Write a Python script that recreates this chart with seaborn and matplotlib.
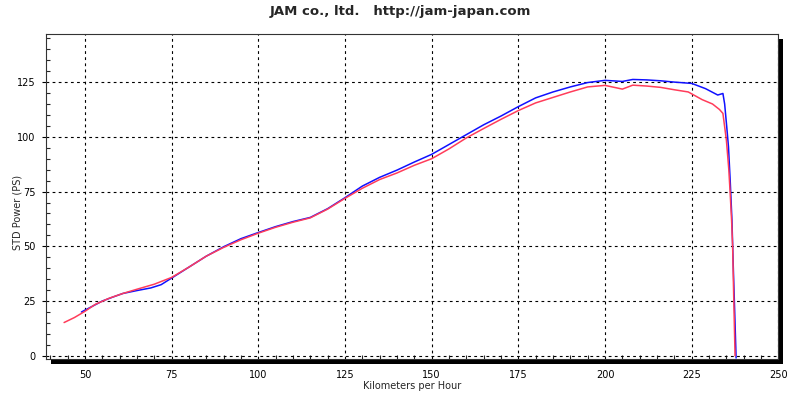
import pandas as pd
import numpy as np
import matplotlib
matplotlib.use('Agg')
import matplotlib.pyplot as plt
import seaborn as sns
from matplotlib.patches import Rectangle
from matplotlib.ticker import MultipleLocator

sns.set_style('white')
plt.rcParams['font.family'] = ['DejaVu Sans']

# Dyno run data (km/h vs PS)
speed_blue = [49, 52, 55, 58, 61, 65, 69, 72, 75, 80, 85, 90, 95, 100, 105, 110, 115,
              120, 125, 130, 135, 140, 145, 150, 155, 160, 165, 170, 175, 180, 185, 190,
              195, 200, 205, 208, 212, 216, 220, 225, 229, 232.5, 234, 234.5, 235.1,
              235.6, 236.1, 236.6, 237.0, 237.4, 237.8]
power_blue = [20, 22.5, 25, 26.8, 28.5, 29.8, 31, 32.5, 35.5, 40.5, 45.5, 49.8, 53.5,
              56.3, 59, 61.3, 63.2, 67.2, 72.2, 77.5, 81.5, 84.8, 88.5, 92, 96.5, 101,
              105.5, 109.5, 113.8, 117.8, 120.5, 122.8, 124.8, 125.8, 125.3, 126.2, 126,
              125.6, 125, 124.4, 122, 119.1, 119.8, 115, 104.6, 95.5, 80, 62, 40, 20, -1]

speed_red = [44, 47, 50, 53, 57, 61, 65, 70, 75, 80, 85, 90, 95, 100, 105, 110, 115,
             120, 125, 130, 135, 140, 145, 150, 155, 160, 165, 170, 175, 180, 185, 190,
             195, 200, 205, 208, 212, 216, 220, 224, 228, 231, 233, 234, 235, 235.7,
             236.1, 236.5, 236.8, 237.1, 237.5]
power_red = [15.2, 17.5, 20.3, 23.5, 26.3, 28.5, 30.4, 32.7, 35.8, 40.5, 45.5, 49.5, 53,
             56, 58.7, 61, 63, 67, 71.9, 76.5, 80.5, 83.5, 87, 90, 94.5, 99.5, 103.8, 108,
             112, 115.5, 118, 120.5, 122.8, 123.5, 121.8, 123.6, 123.2, 122.6, 121.5,
             120.5, 117, 115, 112.5, 110.7, 98.5, 85, 74, 62, 50, 28, 0]

x_ticks = [50, 75, 100, 125, 150, 175, 200, 225, 250]
y_ticks = [0, 25, 50, 75, 100, 125]

df = pd.concat([
    pd.DataFrame({'speed': speed_blue, 'power': power_blue, 'run': 'blue'}),
    pd.DataFrame({'speed': speed_red, 'power': power_red, 'run': 'red'}),
])

fig = plt.figure(figsize=(8, 3.97), dpi=100)
left, bottom, width, height = 0.058, 0.096, 0.915, 0.818
ax = fig.add_axes([left, bottom, width, height])

# drop shadow behind the plot frame
fig.patches.append(Rectangle((left + 5 / 800, bottom - 5 / 397), width, height,
                             transform=fig.transFigure, facecolor='black',
                             edgecolor='none', zorder=0))
ax.set_zorder(1)
ax.set_facecolor('white')

sns.lineplot(data=df, x='speed', y='power', hue='run', sort=False, estimator=None,
             palette={'blue': '#1010ff', 'red': '#ff3c5a'}, linewidth=1.1,
             legend=False, ax=ax)

ax.set_xlim(38.9, 250)
ax.set_ylim(-1.4, 146.9)
ax.set_xticks(x_ticks)
ax.set_yticks(y_ticks)
ax.xaxis.set_minor_locator(MultipleLocator(5))
ax.yaxis.set_minor_locator(MultipleLocator(5))
ax.tick_params(which='major', direction='out', length=3, width=0.8, labelsize=7,
               pad=5, colors='black', bottom=True, left=True)
ax.tick_params(which='minor', direction='in', length=3, width=0.8, bottom=True, left=True)
ax.grid(True, which='major', color='black', linestyle=(0, (2.5, 3)), linewidth=0.8)

for s in ax.spines.values():
    s.set_color('#333333')
    s.set_linewidth(0.8)

ax.set_xlabel('Kilometers per Hour', fontsize=7, labelpad=1)
ax.set_ylabel('STD Power (PS)', fontsize=7)
ax.yaxis.set_label_coords(-0.033, 0.45)
fig.text(0.5, 0.972, 'JAM co., ltd.   http://jam-japan.com', ha='center', va='center',
         fontsize=9.5, fontweight='bold')

fig.savefig('out.png', dpi=100)
